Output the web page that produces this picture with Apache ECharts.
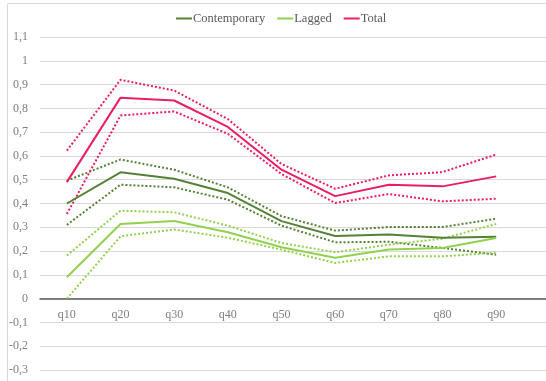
<!DOCTYPE html>
<html>
<head>
<meta charset="utf-8">
<script src="https://cdn.jsdelivr.net/npm/echarts@6/dist/echarts.min.js"></script>
<style>
  html, body { margin: 0; padding: 0; background: #fff; }
  #chart { width: 546px; height: 381px; }
</style>
</head>
<body>
<div id="chart"></div>
<script>
// Quantile categories
const quantiles = ['q10', 'q20', 'q30', 'q40', 'q50', 'q60', 'q70', 'q80', 'q90'];

// Point estimates
const contemporary = [0.40, 0.531, 0.504, 0.444, 0.326, 0.263, 0.270, 0.256, 0.260];
const lagged       = [0.09, 0.314, 0.326, 0.279, 0.216, 0.172, 0.207, 0.213, 0.255];
const total        = [0.49, 0.845, 0.833, 0.722, 0.542, 0.431, 0.479, 0.472, 0.514];

// Confidence bands (upper / lower)
const contemporaryUpper = [0.496, 0.585, 0.542, 0.468, 0.347, 0.286, 0.301, 0.301, 0.336];
const contemporaryLower = [0.310, 0.479, 0.468, 0.416, 0.307, 0.237, 0.239, 0.213, 0.185];
const laggedUpper       = [0.181, 0.370, 0.363, 0.307, 0.234, 0.195, 0.227, 0.252, 0.314];
const laggedLower       = [0.000, 0.262, 0.291, 0.256, 0.206, 0.150, 0.178, 0.178, 0.193];
const totalUpper        = [0.622, 0.920, 0.875, 0.755, 0.566, 0.462, 0.518, 0.532, 0.606];
const totalLower        = [0.356, 0.770, 0.787, 0.693, 0.524, 0.402, 0.440, 0.409, 0.420];

// Y axis ticks
const yTicks = [-0.3, -0.2, -0.1, 0, 0.1, 0.2, 0.3, 0.4, 0.5, 0.6, 0.7, 0.8, 0.9, 1.0, 1.1];

const colors = {
  contemporary: '#548235',
  lagged: '#92d050',
  total: '#e91e63'
};

const FONT = '"Liberation Serif", "DejaVu Serif", serif';
const yMin = yTicks[0], yMax = yTicks[yTicks.length - 1];

// Plot frame (pixels)
const GRID_TOP = 37, GRID_BOTTOM = 11, CHART_H = 381;
const plotH = CHART_H - GRID_TOP - GRID_BOTTOM;
// Distance from the bottom edge up to the zero line, so category labels sit under it
const zeroOffset = -plotH * (0 - yMin) / (yMax - yMin);

function solid(name, data, color) {
  return {
    name, type: 'line', data, xAxisIndex: 1, yAxisIndex: 1,
    symbol: 'none', z: 4,
    lineStyle: { color, width: 2 },
    itemStyle: { color }
  };
}
function dotted(name, data, color) {
  return {
    name, type: 'line', data, xAxisIndex: 1, yAxisIndex: 1,
    symbol: 'none', z: 3,
    lineStyle: { color, width: 2, type: [2, 2] },
    itemStyle: { color }
  };
}

const chart = echarts.init(document.getElementById('chart'), null, { renderer: 'canvas' });

chart.setOption({
  animation: false,
  backgroundColor: '#fff',
  graphic: [{
    type: 'rect',
    shape: { x: 7.5, y: 3.5, width: 600, height: 600 },
    style: { fill: 'none', stroke: '#d9d9d9', lineWidth: 1 },
    silent: true, z: 0
  }],
  legend: {
    data: ['Contemporary', 'Lagged', 'Total'],
    top: 7,
    left: 171,
    itemWidth: 16,
    itemHeight: 2,
    itemGap: 12,
    icon: 'rect',
    textStyle: { fontFamily: FONT, fontSize: 12.5, color: '#595959', padding: [0, 0, 0, -4] }
  },
  grid: [
    { left: 40, right: 0, top: GRID_TOP, bottom: GRID_BOTTOM, containLabel: false, outerBoundsMode: 'none' },
    { left: 40, right: 23, top: GRID_TOP, bottom: GRID_BOTTOM, containLabel: false, outerBoundsMode: 'none' }
  ],
  xAxis: [
    {
      type: 'value', gridIndex: 0, min: 0, max: 1,
      axisLine: { show: true, onZero: true, lineStyle: { color: '#595959', width: 1.5 } },
      axisTick: { show: false }, axisLabel: { show: false }, splitLine: { show: false }
    },
    {
      type: 'category', gridIndex: 1, data: quantiles, boundaryGap: true,
      position: 'bottom', offset: zeroOffset,
      axisLine: { show: false, onZero: false },
      axisTick: { show: false },
      axisLabel: { fontFamily: FONT, fontSize: 12, color: '#7f7f7f', margin: 10 },
      splitLine: { show: false }
    }
  ],
  yAxis: [
    {
      type: 'value', gridIndex: 0, min: yMin, max: yMax, interval: 0.1,
      axisLine: { show: false }, axisTick: { show: false },
      axisLabel: {
        fontFamily: FONT, fontSize: 12, color: '#7f7f7f', margin: 12,
        formatter: v => String(+v.toFixed(1)).replace('.', ',')
      },
      splitLine: { lineStyle: { color: '#d9d9d9', width: 1 } }
    },
    {
      type: 'value', gridIndex: 1, min: yMin, max: yMax, interval: 0.1,
      axisLine: { show: false }, axisTick: { show: false },
      axisLabel: { show: false }, splitLine: { show: false }
    }
  ],
  series: [
    dotted('Contemporary upper', contemporaryUpper, colors.contemporary),
    dotted('Contemporary lower', contemporaryLower, colors.contemporary),
    dotted('Lagged upper', laggedUpper, colors.lagged),
    dotted('Lagged lower', laggedLower, colors.lagged),
    dotted('Total upper', totalUpper, colors.total),
    dotted('Total lower', totalLower, colors.total),
    solid('Contemporary', contemporary, colors.contemporary),
    solid('Lagged', lagged, colors.lagged),
    solid('Total', total, colors.total)
  ]
});
</script>
</body>
</html>
